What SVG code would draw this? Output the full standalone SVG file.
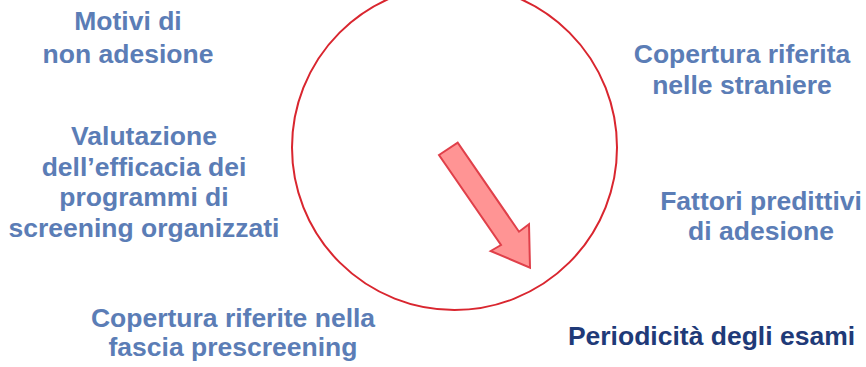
<svg xmlns="http://www.w3.org/2000/svg" width="866" height="367" viewBox="0 0 866 367">
<style>
  .t { font-family: "Liberation Sans", Arial, sans-serif; font-weight: bold; font-size: 26.5px; text-anchor: middle; fill: #5b7db6; }
  .d { fill: #1f3a78; }
</style>
<rect width="866" height="367" fill="#ffffff"/>
<g id="circle">
  <circle cx="454.5" cy="147.5" r="162.5" fill="none" stroke="#d9262f" stroke-width="2"/>
</g>
<g id="connectors">
  <polygon points="439,155 457.7,142.7 519,231.7 529,224.3 530,267.7 490.7,251 501,245" fill="#ff9494" stroke="#e0404a" stroke-width="2" stroke-linejoin="miter"/>
</g>
<g id="motivi">
  <text class="t" x="128" y="30">Motivi di</text>
  <text class="t" x="128" y="63">non adesione</text>
</g>
<g id="valutazione">
  <text class="t" x="144" y="145">Valutazione</text>
  <text class="t" x="144" y="176">dell’efficacia dei</text>
  <text class="t" x="144" y="206">programmi di</text>
  <text class="t" x="144" y="237">screening organizzati</text>
</g>
<g id="copertura-straniere">
  <text class="t" x="742" y="63">Copertura riferita</text>
  <text class="t" x="742" y="94">nelle straniere</text>
</g>
<g id="fattori">
  <text class="t" x="761" y="210">Fattori predittivi</text>
  <text class="t" x="761" y="240">di adesione</text>
</g>
<g id="copertura-prescreening">
  <text class="t" x="233" y="327">Copertura riferite nella</text>
  <text class="t" x="233" y="356">fascia prescreening</text>
</g>
<g id="periodicita">
  <text class="t d" x="711.5" y="345">Periodicità degli esami</text>
</g>
</svg>
